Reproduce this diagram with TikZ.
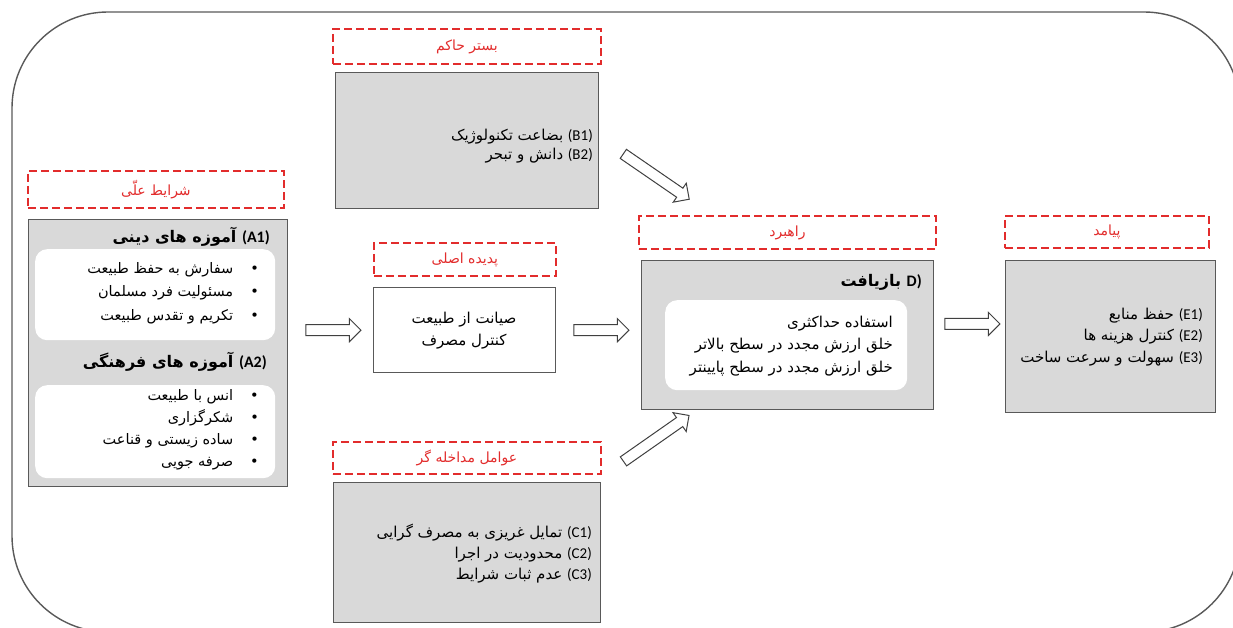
\documentclass[tikz,border=0pt]{standalone}
\usepackage{fontspec}
\setmainfont{DejaVu Sans}
\newfontfamily\fa[Script=Arabic]{DejaVu Sans}
\newfontfamily\en{Carlito}
\TeXXeTstate=1
\usepackage{tikz}
\usetikzlibrary{shapes.arrows,calc}
\definecolor{tred}{RGB}{226,44,44}
\definecolor{boxgray}{RGB}{217,217,217}
\definecolor{edgegray}{RGB}{89,89,89}
\newcommand{\rl}[1]{\beginR #1\endR}
\newcommand{\lab}[1]{\beginL{\en(#1)}\endL}
\newcommand{\bul}{•\hspace{17pt}}

\begin{document}
\begin{tikzpicture}[x=1pt, y=-1pt,
  title/.style={draw=tred, dash pattern=on 8pt off 4pt, line width=1.8pt, text=tred,
    font=\fa\fontsize{14}{16}\selectfont, anchor=north west, inner sep=0pt},
  gbox/.style={draw=edgegray, fill=boxgray, line width=1.3pt, anchor=north west, inner sep=0pt},
  wbox/.style={fill=white, rounded corners=12pt, anchor=north west, inner sep=0pt},
  body/.style={font=\fa\fontsize{15}{#1}\selectfont, align=right, anchor=east, inner sep=0pt},
  body/.default=22,
  head/.style={font=\fa\bfseries\fontsize{16}{18}\selectfont, anchor=east, inner sep=0pt},
  barrow/.style={single arrow, draw=black!75, fill=white, line width=1pt, inner sep=5pt,
    single arrow head extend=6pt, minimum height=55pt}]
  \useasboundingbox (0,0) rectangle (1233,628);
  \draw[edgegray, line width=1.4pt, rounded corners=96pt] (12,12) rectangle (1240,632);

  % causal conditions
  \node[title, minimum width=256, minimum height=37] (At) at (27,170) {\rl{شرایط علّی}};
  \node[gbox, minimum width=259, minimum height=267] (A) at (28,219) {};
  \node[wbox, minimum width=240, minimum height=91] (Aw1) at (35,249) {};
  \node[wbox, minimum width=240, minimum height=93] (Aw2) at (35,385) {};
  \node[head] (a1h) at (270,237) {\rl{\lab{A1} آموزه های دینی}};
  \node[body=23.5, font=\fa\fontsize{14.5}{23.5}\selectfont] (a1t) at (259,293) {\rl{\bul سفارش به حفظ طبیعت}\\\rl{\bul مسئولیت فرد مسلمان}\\\rl{\bul تکریم و تقدس طبیعت}};
  \node[head] (a2h) at (267,362) {\rl{\lab{A2} آموزه های فرهنگی}};
  \node[body=22, font=\fa\fontsize{14.5}{22}\selectfont] (a2t) at (259,430) {\rl{\bul انس با طبیعت}\\\rl{\bul شکرگزاری}\\\rl{\bul ساده زیستی و قناعت}\\\rl{\bul صرفه جویی}};

  % context
  \node[title, minimum width=268, minimum height=35] (Bt) at (332,28) {\rl{بستر حاکم}};
  \node[gbox, minimum width=263, minimum height=136] (B) at (335,72) {};
  \node[body=19] (bt) at (593,146) {\rl{\lab{B1} بضاعت تکنولوژیک}\\\rl{\lab{B2} دانش و تبحر}};

  % core phenomenon
  \node[title, minimum width=182, minimum height=33] (Pt) at (373,242) {\rl{پدیده اصلی}};
  \node[gbox, fill=white, minimum width=182, minimum height=85] (P) at (373,287) {};
  \node[body=22, align=center, anchor=center] (pt) at (464,331) {\rl{صیانت از طبیعت}\\\rl{کنترل مصرف}};

  % intervening conditions
  \node[title, minimum width=268, minimum height=32] (Ct) at (332,441) {\rl{عوامل مداخله گر}};
  \node[gbox, minimum width=267, minimum height=140] (C) at (333,482) {};
  \node[body=21] (ct) at (592,554) {\rl{\lab{C1} تمایل غریزی به مصرف گرایی}\\\rl{\lab{C2} محدودیت در اجرا}\\\rl{\lab{C3} عدم ثبات شرایط}};

  % strategy
  \node[title, minimum width=297, minimum height=33] (Dt) at (638,215) {\rl{راهبرد}};
  \node[gbox, minimum width=292, minimum height=149] (D) at (641,260) {};
  \node[wbox, minimum width=242, minimum height=90] (Dw) at (665,300) {};
  \node[head] (dh) at (922,282) {\rl{\beginL{\en D)}\endL{} بازیافت}};
  \node[body=22.5] (dt) at (893,346) {\rl{استفاده حداکثری}\\\rl{خلق ارزش مجدد در سطح بالاتر}\\\rl{خلق ارزش مجدد در سطح پایینتر}};

  % consequences
  \node[title, minimum width=204, minimum height=32] (Et) at (1004,215) {\rl{پیامد}};
  \node[gbox, minimum width=210, minimum height=152] (E) at (1005,260) {};
  \node[body=21.5] (et) at (1203,337) {\rl{\lab{E1} حفظ منابع}\\\rl{\lab{E2} کنترل هزینه ها}\\\rl{\lab{E3} سهولت و سرعت ساخت}};

  % block arrows
  \coordinate (m1) at ($(A.east)!0.5!(P.west)$);
  \coordinate (m2) at ($(P.east)!0.5!(D.west)$);
  \node[barrow] (ar1) at (m1 |- P) {};
  \node[barrow] (ar2) at (m2 |- P) {};
  \node[barrow] (ar3) at ($(D.east)!0.5!(E.west)+(0,-12)$) {};
  \node[barrow, minimum height=80pt, rotate=-34.5] (ar4) at (654,175) {};
  \node[barrow, minimum height=80pt, rotate=35] (ar5) at (654,440) {};
\end{tikzpicture}
\end{document}
